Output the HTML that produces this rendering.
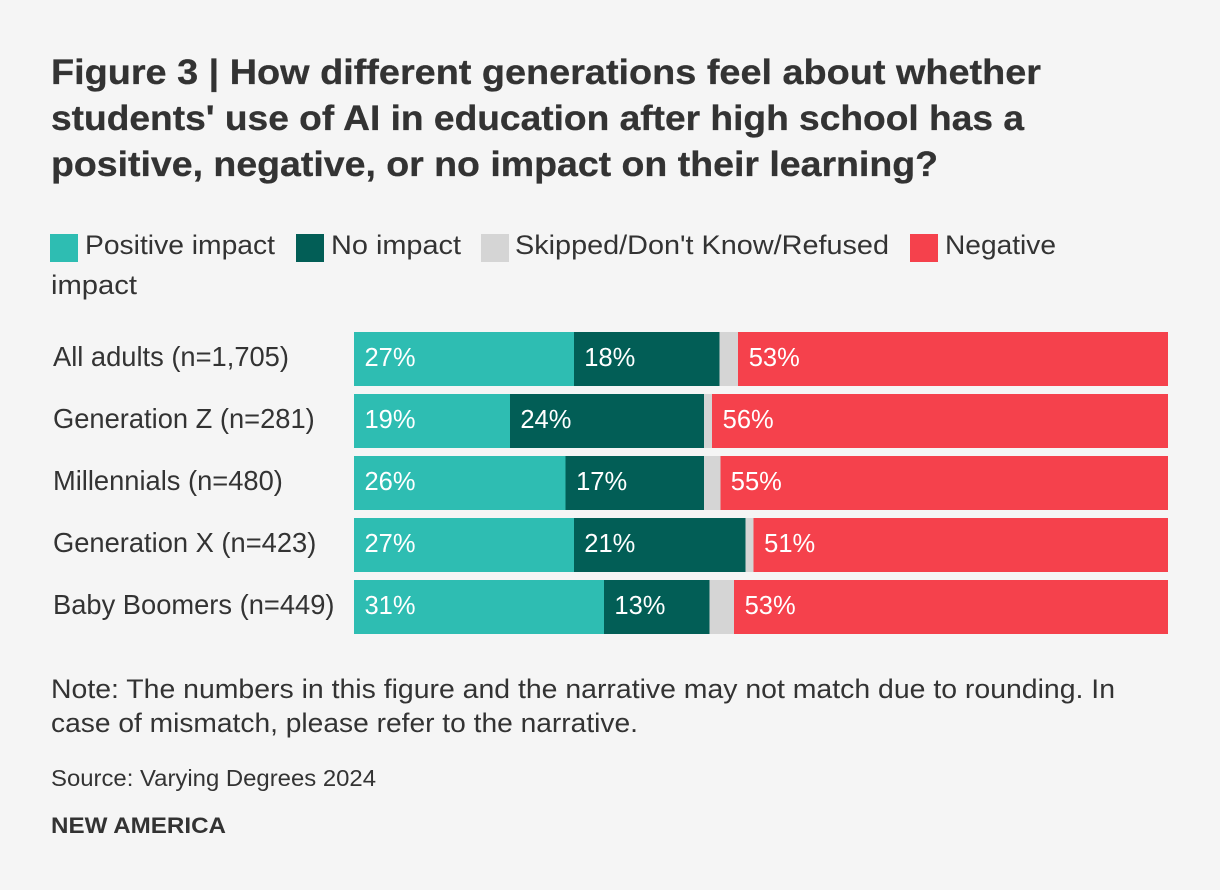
<!DOCTYPE html>
<html lang="en">
<head>
<meta charset="utf-8">
<title>How different generations feel about AI in education</title>
<style>
  html, body { margin: 0; padding: 0; background: #f5f5f5; width: 1220px; height: 890px; overflow: hidden; }
  svg { display: block; }
  text { font-family: "Liberation Sans", sans-serif; fill: #333333; }
  .title { font-size: 35px; font-weight: 700; stroke: #333333; stroke-width: 0.3px; }
  .body { font-size: 27px; }
  .row-label { font-size: 27.3px; }
  .source { font-size: 23px; }
  .brand { font-size: 22.5px; font-weight: 700; }
  .val { font-size: 25.5px; fill: #ffffff; }
</style>
</head>
<body>
<svg id="chart" xmlns="http://www.w3.org/2000/svg" width="1220" height="890" viewBox="0 0 1220 890">
  <rect width="1220" height="890" fill="#f5f5f5"/>
  <g>
    <text class="title" x="51" y="84" textLength="990" lengthAdjust="spacingAndGlyphs">Figure 3 | How different generations feel about whether</text>
    <text class="title" x="51" y="130" textLength="973" lengthAdjust="spacingAndGlyphs">students' use of AI in education after high school has a</text>
    <text class="title" x="51" y="176" textLength="887" lengthAdjust="spacingAndGlyphs">positive, negative, or no impact on their learning?</text>
  </g>
  <g>
    <g>
      <rect x="50" y="234" width="28" height="28" fill="#2ebdb2"/>
      <text class="body" x="85" y="254" textLength="190" lengthAdjust="spacingAndGlyphs">Positive impact</text>
    </g>
    <g>
      <rect x="296" y="234" width="28" height="28" fill="#025e56"/>
      <text class="body" x="331" y="254" textLength="130" lengthAdjust="spacingAndGlyphs">No impact</text>
    </g>
    <g>
      <rect x="481" y="234" width="28" height="28" fill="#d5d5d5"/>
      <text class="body" x="515" y="254" textLength="374" lengthAdjust="spacingAndGlyphs">Skipped/Don't Know/Refused</text>
    </g>
    <g>
      <rect x="910" y="234" width="28" height="28" fill="#f5414c"/>
      <text class="body" x="945" y="254" textLength="111" lengthAdjust="spacingAndGlyphs">Negative</text>
      <text class="body" x="51" y="294" textLength="86" lengthAdjust="spacingAndGlyphs">impact</text>
    </g>
  </g>
  <g id="rows"></g>
  <g>
    <text class="body" x="51" y="698" textLength="1064" lengthAdjust="spacingAndGlyphs">Note: The numbers in this figure and the narrative may not match due to rounding. In</text>
    <text class="body" x="51" y="732" textLength="587" lengthAdjust="spacingAndGlyphs">case of mismatch, please refer to the narrative.</text>
  </g>
  <text class="source" x="51" y="786" textLength="325" lengthAdjust="spacingAndGlyphs">Source: Varying Degrees 2024</text>
  <text class="brand" x="51" y="833" textLength="175" lengthAdjust="spacingAndGlyphs">NEW AMERICA</text>
</svg>
<script>
const categories = ["All adults (n=1,705)", "Generation Z (n=281)", "Millennials (n=480)", "Generation X (n=423)", "Baby Boomers (n=449)"];
const positiveValues = [27.0, 19.15, 26.0, 27.0, 30.7];
const noImpactValues = [17.93, 23.85, 17.0, 21.07, 13.0];
const skippedValues = [2.27, 1.0, 2.0, 1.03, 3.0];
const negativeValues = [52.8, 56.0, 55.0, 50.9, 53.3];

const NS = "http://www.w3.org/2000/svg";
const rowsGroup = document.getElementById("rows");
const plotLeft = 354, plotWidth = 814, rowTop = 332, rowStep = 62, barHeight = 54;
const xScale = v => plotLeft + (v / 100) * plotWidth;
const yScale = i => rowTop + i * rowStep;

const series = [
  { key: "positive", values: positiveValues, color: "#2ebdb2", label: true },
  { key: "no-impact", values: noImpactValues, color: "#025e56", label: true },
  { key: "skipped", values: skippedValues, color: "#d5d5d5", label: false },
  { key: "negative", values: negativeValues, color: "#f5414c", label: true }
];

categories.forEach((cat, i) => {
  const rowG = document.createElementNS(NS, "g");
  
  
  rowsGroup.appendChild(rowG);

  const catText = document.createElementNS(NS, "text");
  
  
  catText.setAttribute("class", "row-label");
  catText.setAttribute("x", 53);
  catText.setAttribute("y", yScale(i) + 34);
  catText.textContent = cat;
  rowG.appendChild(catText);

  let cum = 0;
  series.forEach(s => {
    const v = s.values[i];
    const x0 = xScale(cum);
    const x1 = xScale(cum + v);
    const rect = document.createElementNS(NS, "rect");
    
    
    rect.setAttribute("data-series", s.key);
    rect.setAttribute("x", x0);
    rect.setAttribute("y", yScale(i));
    rect.setAttribute("width", Math.max(0, x1 - x0));
    rect.setAttribute("height", barHeight);
    rect.setAttribute("fill", s.color);
    rect.setAttribute("shape-rendering", "crispEdges");
    rowG.appendChild(rect);
    if (s.label) {
      const t = document.createElementNS(NS, "text");
      
      
      t.setAttribute("class", "val");
      t.setAttribute("x", x0 + 10.5);
      t.setAttribute("y", yScale(i) + 34);
      t.textContent = Math.round(v) + "%";
      rowG.appendChild(t);
    }
    cum += v;
  });
});
</script>
</body>
</html>
